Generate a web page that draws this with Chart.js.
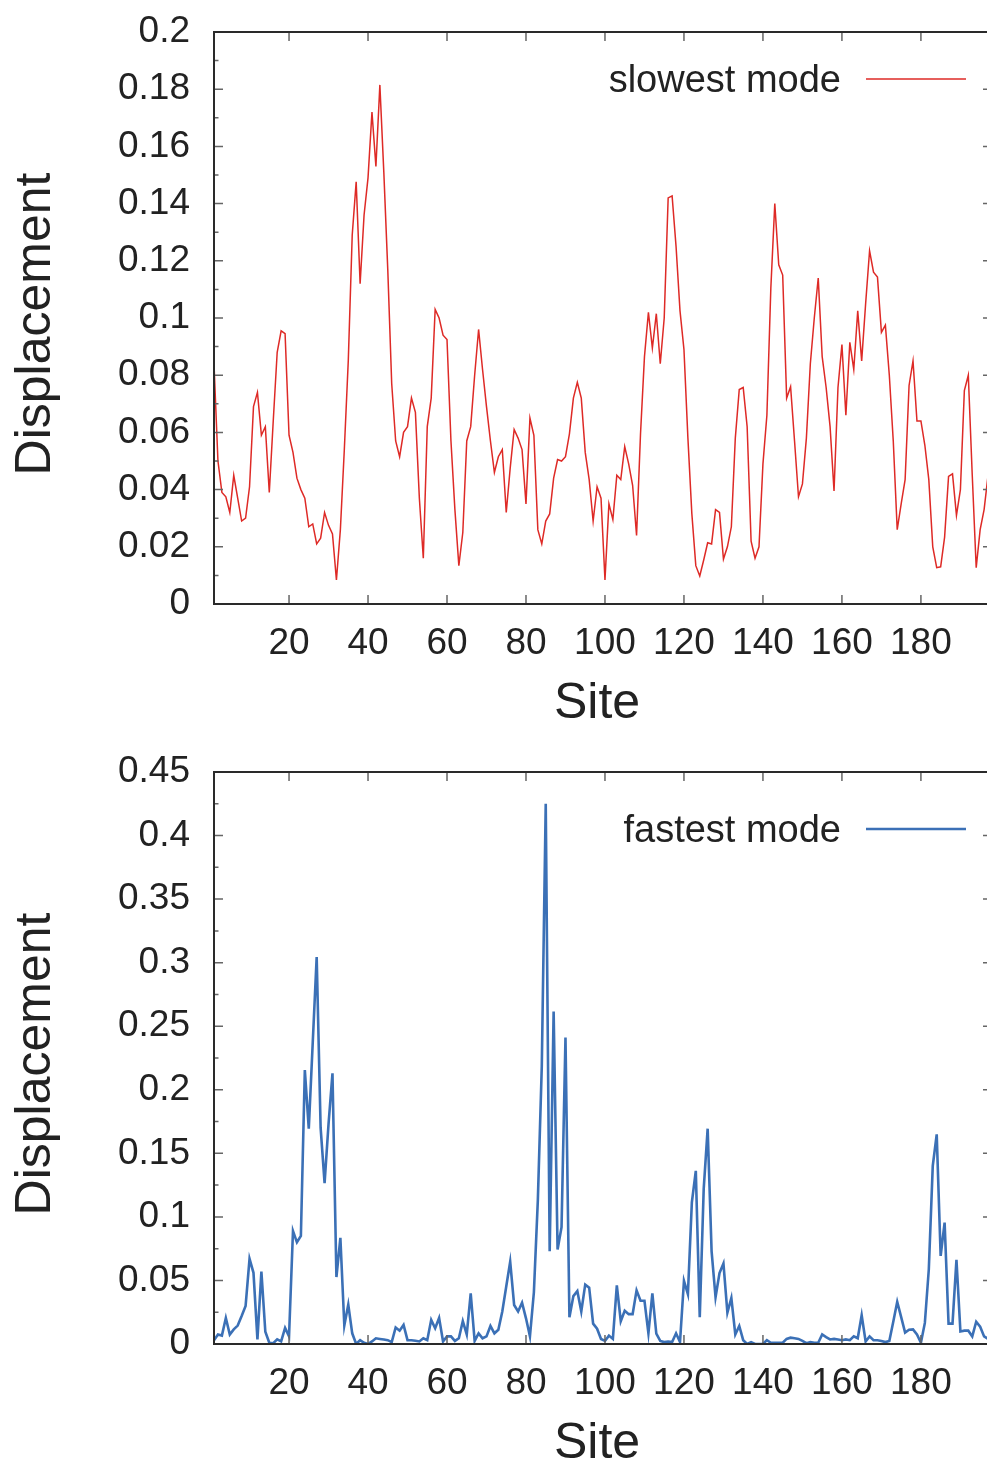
<!DOCTYPE html>
<html>
<head>
<meta charset="utf-8">
<script src="https://cdn.jsdelivr.net/npm/chart.js@4.4.0/dist/chart.umd.min.js"></script>
<style>
  html, body { margin: 0; padding: 0; background: #fff; overflow: hidden; width: 987px; height: 1461px; }
  canvas { display: block; position: absolute; left: 0; }
  #slowChart { top: 0; }
  #fastChart { top: 740px; }
</style>
</head>
<body>
<canvas id="slowChart" width="995" height="740"></canvas>
<canvas id="fastChart" width="995" height="721"></canvas>
<script>
// residue sites along the chain
const sites = Array.from({ length: 197 }, (_, i) => i + 1);

// displacement per site, slowest normal mode
const slowestDisp = [
  0.084, 0.050, 0.039, 0.0375, 0.032, 0.045, 0.037, 0.029, 0.030, 0.041,
  0.069, 0.074, 0.059, 0.062, 0.039, 0.064, 0.088, 0.0955, 0.0945, 0.059,
  0.053, 0.044, 0.040, 0.037, 0.027, 0.028, 0.021, 0.023, 0.032, 0.0275,
  0.0245, 0.0084, 0.026, 0.054, 0.085, 0.129, 0.1476, 0.112, 0.136, 0.149,
  0.172, 0.153, 0.1815, 0.151, 0.117, 0.077, 0.057, 0.0515, 0.060, 0.062,
  0.072, 0.067, 0.037, 0.016, 0.062, 0.072, 0.103, 0.100, 0.094, 0.0925,
  0.057, 0.033, 0.0134, 0.025, 0.057, 0.062, 0.080, 0.096, 0.082, 0.069,
  0.057, 0.046, 0.0515, 0.054, 0.032, 0.0475, 0.061, 0.058, 0.054, 0.035,
  0.065, 0.059, 0.026, 0.021, 0.029, 0.0315, 0.044, 0.0505, 0.050, 0.0515,
  0.0595, 0.072, 0.0775, 0.072, 0.053, 0.0435, 0.029, 0.041, 0.037, 0.0084,
  0.035, 0.0295, 0.045, 0.0435, 0.055, 0.049, 0.0415, 0.024, 0.0595, 0.0865,
  0.102, 0.0895, 0.1015, 0.084, 0.100, 0.142, 0.1427, 0.125, 0.1025, 0.089,
  0.058, 0.0315, 0.0134, 0.0098, 0.0154, 0.0214, 0.021, 0.033, 0.032, 0.0157,
  0.020, 0.027, 0.058, 0.075, 0.0757, 0.062, 0.022, 0.016, 0.020, 0.049,
  0.066, 0.1105, 0.140, 0.1186, 0.115, 0.072, 0.076, 0.057, 0.0375, 0.042,
  0.058, 0.084, 0.100, 0.114, 0.0865, 0.0757, 0.062, 0.0395, 0.0757, 0.0907,
  0.066, 0.0915, 0.082, 0.1025, 0.085, 0.105, 0.1235, 0.116, 0.1143, 0.095,
  0.0975, 0.080, 0.057, 0.026, 0.035, 0.0435, 0.0764, 0.085, 0.064, 0.064,
  0.0555, 0.0435, 0.020, 0.0127, 0.013, 0.0234, 0.0446, 0.0455, 0.031, 0.040,
  0.0746, 0.080, 0.045, 0.0127, 0.026, 0.033, 0.045
];

// displacement per site, fastest normal mode
const fastestDisp = [
  0.003, 0.0075, 0.0066, 0.0205, 0.0075, 0.0115, 0.0145, 0.022, 0.030, 0.067,
  0.056, 0.0036, 0.057, 0.0096, 0.001, 0.0006, 0.0036, 0.002, 0.0127, 0.006,
  0.089, 0.080, 0.085, 0.2155, 0.1694, 0.237, 0.3044, 0.170, 0.1266, 0.173,
  0.213, 0.0527, 0.0835, 0.0145, 0.031, 0.0084, 0.0, 0.003, 0.001, 0.0,
  0.002, 0.0045, 0.004, 0.0035, 0.003, 0.0015, 0.013, 0.0105, 0.015, 0.003,
  0.003, 0.0025, 0.002, 0.0045, 0.003, 0.019, 0.0124, 0.0205, 0.002, 0.006,
  0.006, 0.0024, 0.0045, 0.018, 0.0075, 0.0398, 0.0024, 0.0084, 0.0045, 0.006,
  0.0142, 0.0084, 0.0112, 0.0256, 0.0452, 0.0648, 0.0307, 0.0256, 0.0325, 0.0202,
  0.006, 0.0407, 0.113, 0.2185, 0.425, 0.0729, 0.2616, 0.0744, 0.0919, 0.2411,
  0.0211, 0.0377, 0.0416, 0.0256, 0.0467, 0.0443, 0.016, 0.012, 0.0039, 0.0024,
  0.0066, 0.004, 0.0461, 0.018, 0.0262, 0.0235, 0.0235, 0.0422, 0.034, 0.034,
  0.0084, 0.0398, 0.0081, 0.0024, 0.0015, 0.002, 0.0015, 0.0084, 0.0015, 0.0497,
  0.0392, 0.1115, 0.1362, 0.0211, 0.122, 0.1694, 0.0729, 0.0368, 0.0558, 0.0633,
  0.0247, 0.0362, 0.0075, 0.0142, 0.003, 0.0, 0.0015, 0.0, 0.0, 0.0,
  0.003, 0.001, 0.001, 0.001, 0.001, 0.004, 0.005, 0.0045, 0.004, 0.0024,
  0.0006, 0.0015, 0.001, 0.001, 0.0075, 0.0054, 0.0036, 0.004, 0.0036, 0.003,
  0.0036, 0.003, 0.006, 0.0045, 0.0226, 0.002, 0.006, 0.003, 0.003, 0.0024,
  0.0015, 0.0024, 0.0175, 0.0332, 0.0211, 0.009, 0.0112, 0.0115, 0.0075, 0.001,
  0.0166, 0.0588, 0.1401, 0.1649, 0.0693, 0.0955, 0.016, 0.016, 0.0663, 0.0099,
  0.0105, 0.0105, 0.006, 0.0175, 0.0136, 0.006, 0.004
];

// axis ticks
const siteTicks = [20, 40, 60, 80, 100, 120, 140, 160, 180];
const slowTicks = [0, 0.02, 0.04, 0.06, 0.08, 0.1, 0.12, 0.14, 0.16, 0.18, 0.2];
const slowTickLabels = ["0", "0.02", "0.04", "0.06", "0.08", "0.1", "0.12", "0.14", "0.16", "0.18", "0.2"];
const fastTicks = [0, 0.05, 0.1, 0.15, 0.2, 0.25, 0.3, 0.35, 0.4, 0.45];
const fastTickLabels = ["0", "0.05", "0.1", "0.15", "0.2", "0.25", "0.3", "0.35", "0.4", "0.45"];

const FONT = '"Liberation Sans", Arial, sans-serif';
const TEXT = '#222';

// frame, inward ticks, key and axis titles in gnuplot style
const gnuFrame = {
  id: 'gnuFrame',
  afterDatasetsDraw(chart, args, o) {
    const { ctx, chartArea: a, scales: { x, y } } = chart;
    ctx.save();
    ctx.strokeStyle = '#666';
    ctx.lineWidth = 1.5;
    ctx.beginPath();
    for (const v of siteTicks) {
      const px = x.getPixelForValue(v);
      ctx.moveTo(px, a.bottom); ctx.lineTo(px, a.bottom - 9);
      ctx.moveTo(px, a.top); ctx.lineTo(px, a.top + 9);
    }
    const n = Math.round(y.max / o.minorStep);
    for (let i = 1; i < n; i++) {
      const py = y.getPixelForValue(i * o.minorStep);
      const len = i % 2 === 0 ? 9 : 4.5;
      ctx.moveTo(a.left, py); ctx.lineTo(a.left + len, py);
      ctx.moveTo(a.right, py); ctx.lineTo(a.right - len, py);
    }
    ctx.stroke();

    ctx.strokeStyle = '#2a2a2a';
    ctx.lineWidth = 2;
    ctx.strokeRect(a.left, a.top, a.right - a.left, a.bottom - a.top);

    // key
    const ds = chart.data.datasets[0];
    ctx.fillStyle = TEXT;
    ctx.font = '38px ' + FONT;
    ctx.textAlign = 'right';
    ctx.textBaseline = 'middle';
    ctx.fillText(ds.label, 841, o.keyY + 3);
    ctx.strokeStyle = ds.borderColor;
    ctx.lineWidth = ds.borderWidth;
    ctx.beginPath();
    ctx.moveTo(866, o.keyY); ctx.lineTo(966, o.keyY);
    ctx.stroke();

    // axis titles
    ctx.font = '50px ' + FONT;
    ctx.textAlign = 'center';
    ctx.textBaseline = 'alphabetic';
    ctx.fillText('Site', 597, 718);
    ctx.translate(50, 324);
    ctx.rotate(-Math.PI / 2);
    ctx.fillText('Displacement', 0, 0);
    ctx.restore();
  }
};

function drawMode(id, label, values, color, width, yTicks, yLabels, minorStep, keyY) {
  const canvas = document.getElementById(id);
  const H = canvas.height;
  return new Chart(canvas, {
    type: 'line',
    data: {
      datasets: [{
        label: label,
        data: sites.map((s, i) => ({ x: s, y: values[i] })),
        borderColor: color,
        borderWidth: width,
        pointRadius: 0,
        tension: 0,
        fill: false
      }]
    },
    options: {
      responsive: false,
      animation: false,
      events: [],
      layout: { padding: { top: 32, right: 3, left: 0, bottom: 0 }, autoPadding: false },
      plugins: {
        legend: { display: false },
        tooltip: { enabled: false },
        gnuFrame: { minorStep: minorStep, keyY: keyY }
      },
      scales: {
        x: {
          type: 'linear',
          min: 1,
          max: 198,
          grid: { display: false, drawTicks: false },
          border: { display: false },
          ticks: { font: { family: FONT, size: 37 }, color: TEXT, padding: 18, maxRotation: 0, autoSkip: false },
          afterBuildTicks: s => { s.ticks = siteTicks.map(v => ({ value: v })); },
          afterFit: s => { s.height = H - 604; }
        },
        y: {
          min: 0,
          max: yTicks[yTicks.length - 1],
          grid: { display: false, drawTicks: false },
          border: { display: false },
          ticks: {
            // small line height keeps the end labels from pushing the plot area inward
            font: { family: FONT, size: 37, lineHeight: 0.4 }, color: TEXT, padding: 24,
            callback: (v, i) => yLabels[i]
          },
          afterBuildTicks: s => { s.ticks = yTicks.map(v => ({ value: v })); },
          afterFit: s => { s.width = 214; }
        }
      }
    },
    plugins: [gnuFrame]
  });
}

drawMode('slowChart', 'slowest mode', slowestDisp, '#de2a26', 1.5, slowTicks, slowTickLabels, 0.01, 79);
drawMode('fastChart', 'fastest mode', fastestDisp, '#3b70b6', 2.6, fastTicks, fastTickLabels, 0.025, 89);
</script>
</body>
</html>
